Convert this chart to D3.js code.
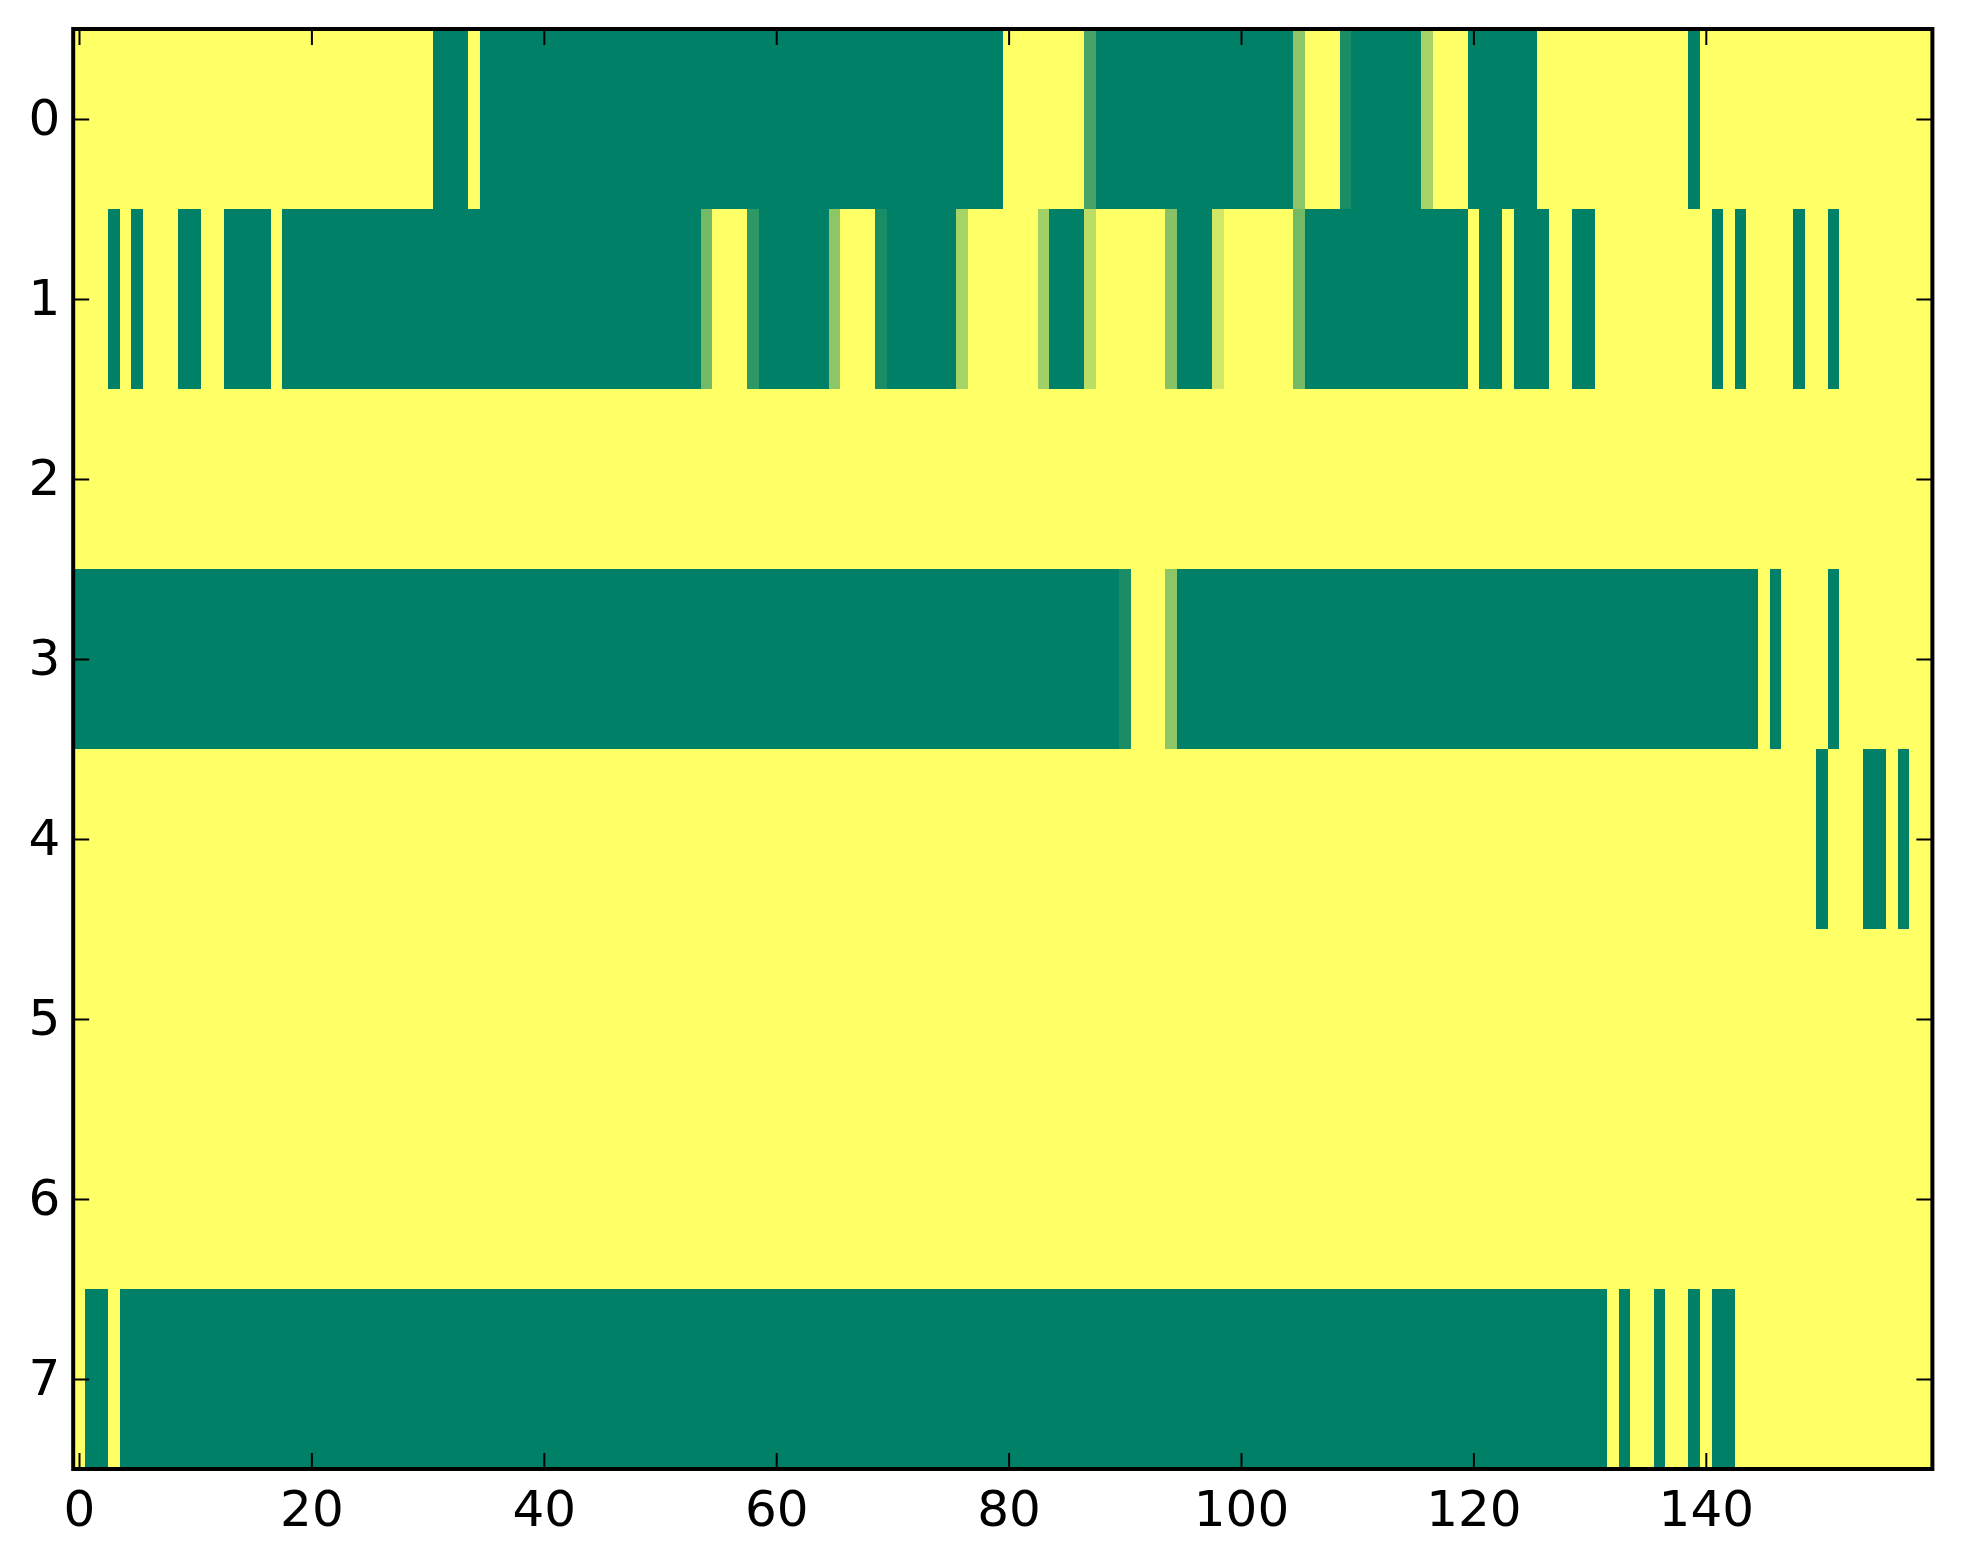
<!DOCTYPE html>
<html>
<head>
<meta charset="utf-8">
<script src="https://cdn.jsdelivr.net/npm/d3@7"></script>
<style>
  body { margin: 0; background: #fff; }
  text { font-family: "DejaVu Sans", sans-serif; }
</style>
</head>
<body>
<div id="chart"></div>
<script>
// one array per image row, 160 cells each (0 = yellow, 1 = green)
const row0 = [
  0,0,0,0,0,0,0,0,0,0,0,0,0,0,0,0,0,0,0,0,
  0,0,0,0,0,0,0,0,0,0,0,1,1,1,0,1,1,1,1,1,
  1,1,1,1,1,1,1,1,1,1,1,1,1,1,1,1,1,1,1,1,
  1,1,1,1,1,1,1,1,1,1,1,1,1,1,1,1,1,1,1,1,
  0,0,0,0,0,0,0,.72,1,1,1,1,1,1,1,1,1,1,1,1,
  1,1,1,1,1,.45,0,0,0,.9,1,1,1,1,1,1,.35,0,0,0,
  1,1,1,1,1,1,0,0,0,0,0,0,0,0,0,0,0,0,0,1,
  0,0,0,0,0,0,0,0,0,0,0,0,0,0,0,0,0,0,0,0
];
const row1 = [
  0,0,0,1,0,1,0,0,0,1,1,0,0,1,1,1,1,0,1,1,
  1,1,1,1,1,1,1,1,1,1,1,1,1,1,1,1,1,1,1,1,
  1,1,1,1,1,1,1,1,1,1,1,1,1,1,.55,0,0,0,.82,1,
  1,1,1,1,1,.45,0,0,0,.9,1,1,1,1,1,1,.35,0,0,0,
  0,0,0,.37,1,1,1,.27,0,0,0,0,0,0,.47,1,1,1,.18,0,
  0,0,0,0,0,.55,1,1,1,1,1,1,1,1,1,1,1,1,1,1,
  0,1,1,0,1,1,1,0,0,1,1,0,0,0,0,0,0,0,0,0,
  0,1,0,1,0,0,0,0,1,0,0,1,0,0,0,0,0,0,0,0
];
const row2 = [
  0,0,0,0,0,0,0,0,0,0,0,0,0,0,0,0,0,0,0,0,
  0,0,0,0,0,0,0,0,0,0,0,0,0,0,0,0,0,0,0,0,
  0,0,0,0,0,0,0,0,0,0,0,0,0,0,0,0,0,0,0,0,
  0,0,0,0,0,0,0,0,0,0,0,0,0,0,0,0,0,0,0,0,
  0,0,0,0,0,0,0,0,0,0,0,0,0,0,0,0,0,0,0,0,
  0,0,0,0,0,0,0,0,0,0,0,0,0,0,0,0,0,0,0,0,
  0,0,0,0,0,0,0,0,0,0,0,0,0,0,0,0,0,0,0,0,
  0,0,0,0,0,0,0,0,0,0,0,0,0,0,0,0,0,0,0,0
];
const row3 = [
  1,1,1,1,1,1,1,1,1,1,1,1,1,1,1,1,1,1,1,1,
  1,1,1,1,1,1,1,1,1,1,1,1,1,1,1,1,1,1,1,1,
  1,1,1,1,1,1,1,1,1,1,1,1,1,1,1,1,1,1,1,1,
  1,1,1,1,1,1,1,1,1,1,1,1,1,1,1,1,1,1,1,1,
  1,1,1,1,1,1,1,1,1,1,.9,0,0,0,.45,1,1,1,1,1,
  1,1,1,1,1,1,1,1,1,1,1,1,1,1,1,1,1,1,1,1,
  1,1,1,1,1,1,1,1,1,1,1,1,1,1,1,1,1,1,1,1,
  1,1,1,1,1,0,1,0,0,0,0,1,0,0,0,0,0,0,0,0
];
const row4 = [
  0,0,0,0,0,0,0,0,0,0,0,0,0,0,0,0,0,0,0,0,
  0,0,0,0,0,0,0,0,0,0,0,0,0,0,0,0,0,0,0,0,
  0,0,0,0,0,0,0,0,0,0,0,0,0,0,0,0,0,0,0,0,
  0,0,0,0,0,0,0,0,0,0,0,0,0,0,0,0,0,0,0,0,
  0,0,0,0,0,0,0,0,0,0,0,0,0,0,0,0,0,0,0,0,
  0,0,0,0,0,0,0,0,0,0,0,0,0,0,0,0,0,0,0,0,
  0,0,0,0,0,0,0,0,0,0,0,0,0,0,0,0,0,0,0,0,
  0,0,0,0,0,0,0,0,0,0,1,0,0,0,1,1,0,1,0,0
];
const row5 = [
  0,0,0,0,0,0,0,0,0,0,0,0,0,0,0,0,0,0,0,0,
  0,0,0,0,0,0,0,0,0,0,0,0,0,0,0,0,0,0,0,0,
  0,0,0,0,0,0,0,0,0,0,0,0,0,0,0,0,0,0,0,0,
  0,0,0,0,0,0,0,0,0,0,0,0,0,0,0,0,0,0,0,0,
  0,0,0,0,0,0,0,0,0,0,0,0,0,0,0,0,0,0,0,0,
  0,0,0,0,0,0,0,0,0,0,0,0,0,0,0,0,0,0,0,0,
  0,0,0,0,0,0,0,0,0,0,0,0,0,0,0,0,0,0,0,0,
  0,0,0,0,0,0,0,0,0,0,0,0,0,0,0,0,0,0,0,0
];
const row6 = [
  0,0,0,0,0,0,0,0,0,0,0,0,0,0,0,0,0,0,0,0,
  0,0,0,0,0,0,0,0,0,0,0,0,0,0,0,0,0,0,0,0,
  0,0,0,0,0,0,0,0,0,0,0,0,0,0,0,0,0,0,0,0,
  0,0,0,0,0,0,0,0,0,0,0,0,0,0,0,0,0,0,0,0,
  0,0,0,0,0,0,0,0,0,0,0,0,0,0,0,0,0,0,0,0,
  0,0,0,0,0,0,0,0,0,0,0,0,0,0,0,0,0,0,0,0,
  0,0,0,0,0,0,0,0,0,0,0,0,0,0,0,0,0,0,0,0,
  0,0,0,0,0,0,0,0,0,0,0,0,0,0,0,0,0,0,0,0
];
const row7 = [
  0,1,1,0,1,1,1,1,1,1,1,1,1,1,1,1,1,1,1,1,
  1,1,1,1,1,1,1,1,1,1,1,1,1,1,1,1,1,1,1,1,
  1,1,1,1,1,1,1,1,1,1,1,1,1,1,1,1,1,1,1,1,
  1,1,1,1,1,1,1,1,1,1,1,1,1,1,1,1,1,1,1,1,
  1,1,1,1,1,1,1,1,1,1,1,1,1,1,1,1,1,1,1,1,
  1,1,1,1,1,1,1,1,1,1,1,1,1,1,1,1,1,1,1,1,
  1,1,1,1,1,1,1,1,1,1,1,1,0,1,0,0,1,0,0,1,
  0,1,1,0,0,0,0,0,0,0,0,0,0,0,0,0,0,0,0,0
];

const rows = [row0, row1, row2, row3, row4, row5, row6, row7];
const xTicks = [0, 20, 40, 60, 80, 100, 120, 140];
const yTicks = [0, 1, 2, 3, 4, 5, 6, 7];

const width = 1963, height = 1564;
const axLeft = 73.2, axRight = 1932.4, axTop = 29, axBottom = 1469;
const nCols = row0.length;

const x = d3.scaleLinear().domain([-0.5, nCols - 0.5]).range([axLeft, axRight]);
const y = d3.scaleLinear().domain([-0.5, rows.length - 0.5]).range([axTop, axBottom]);
// summer_r: 0 -> yellow, 1 -> green
const color = d3.scaleLinear().domain([0, 1]).range(["#ffff66", "#008066"]);

const svg = d3.select("#chart").append("svg")
    .attr("width", width)
    .attr("height", height);

const cells = [];
rows.forEach((r, i) => r.forEach((v, j) => cells.push({i, j, v})));

svg.append("g")
    .attr("shape-rendering", "crispEdges")
    .selectAll("rect")
    .data(cells)
    .enter()
    .append("rect")
    .attr("x", d => x(d.j - 0.5))
    .attr("y", d => y(d.i - 0.5))
    .attr("width", d => x(d.j + 0.5) - x(d.j - 0.5) + 0.6)
    .attr("height", d => y(d.i + 0.5) - y(d.i - 0.5) + 0.6)
    .attr("fill", d => color(d.v));

const tickLen = 16;
const fontSize = 50;

const styleAxis = (g) => {
    g.select(".domain").remove();
    g.selectAll(".tick line").attr("stroke", "#000").attr("stroke-width", 2);
    g.selectAll(".tick text")
        .attr("fill", "#000")
        .attr("font-size", fontSize)
        .attr("font-family", "DejaVu Sans, sans-serif");
};

// bottom, with labels
svg.append("g")
    .attr("transform", `translate(0,${axBottom})`)
    .call(d3.axisBottom(x).tickValues(xTicks).tickSize(-tickLen).tickPadding(21))
    .call(styleAxis);

// top, ticks only
svg.append("g")
    .attr("transform", `translate(0,${axTop})`)
    .call(d3.axisTop(x).tickValues(xTicks).tickSize(-tickLen).tickFormat(""))
    .call(styleAxis);

// left, with labels
svg.append("g")
    .attr("transform", `translate(${axLeft},0)`)
    .call(d3.axisLeft(y).tickValues(yTicks).tickSize(-tickLen).tickPadding(13))
    .call(styleAxis)
    .call(g => g.selectAll(".tick text").attr("dy", "0.3em"));

// right, ticks only
svg.append("g")
    .attr("transform", `translate(${axRight},0)`)
    .call(d3.axisRight(y).tickValues(yTicks).tickSize(-tickLen).tickFormat(""))
    .call(styleAxis);

// frame
svg.append("rect")
    .attr("x", axLeft)
    .attr("y", axTop)
    .attr("width", axRight - axLeft)
    .attr("height", axBottom - axTop)
    .attr("fill", "none")
    .attr("stroke", "#000")
    .attr("stroke-width", 4);
</script>
</body>
</html>
